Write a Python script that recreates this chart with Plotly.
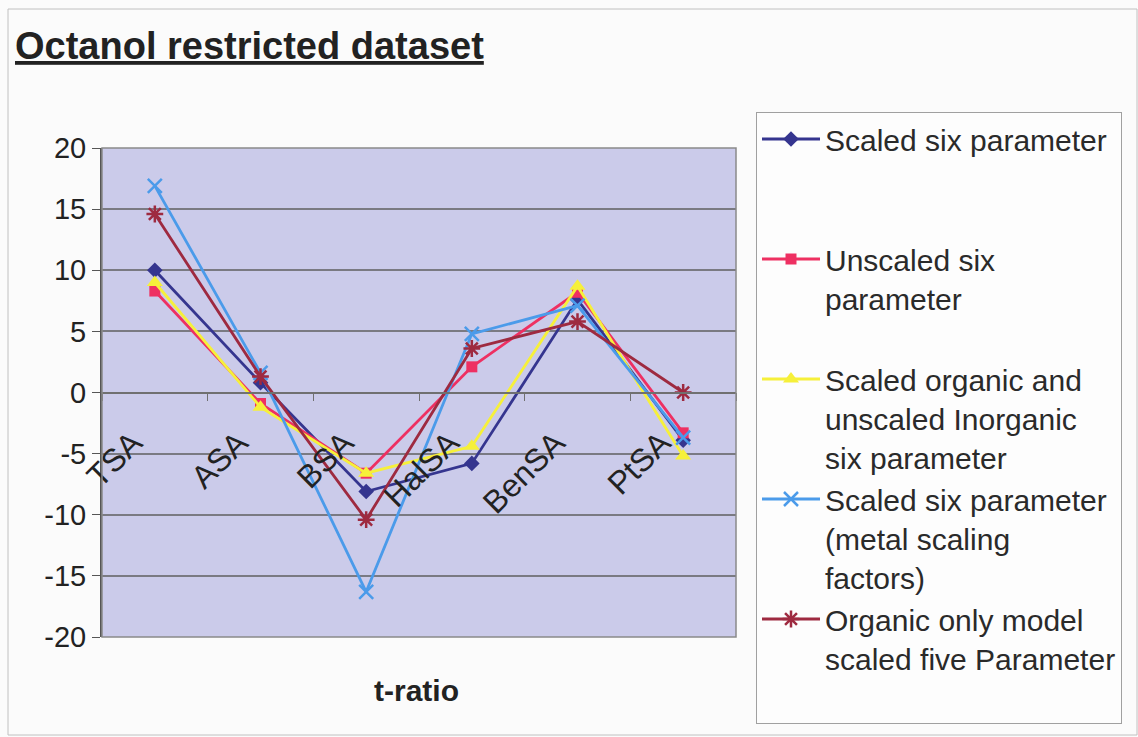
import plotly.graph_objects as go

# Categories and t-ratio values for each model
categories = ["TSA", "ASA", "BSA", "HalSA", "BenSA", "PtSA"]

scaled_six = [10.0, 0.8, -8.1, -5.8, 7.6, -3.9]
unscaled_six = [8.3, -0.9, -6.6, 2.1, 8.2, -3.3]
scaled_org_unscaled_inorg = [9.0, -1.2, -6.6, -4.4, 8.7, -5.2]
scaled_metal_factors = [16.9, 1.6, -16.3, 4.8, 7.1, -3.7]
organic_only_five = [14.6, 1.3, -10.4, 3.6, 5.8, 0.0]

y_ticks = [-20, -15, -10, -5, 0, 5, 10, 15, 20]
y_tick_text = [str(v) for v in y_ticks]

FONT = "Arial, Liberation Sans, sans-serif"
W, H = 1138, 737
# plot area in pixels
L, R, T, B = 102, 736, 148, 637


def px_x(px):
    return (px - L) / (R - L)


def px_y(py):
    return (B - py) / (B - T)


series = [
    ("Scaled six parameter<br>&nbsp;<br>&nbsp;", scaled_six, "#35358f", "diamond", 12, None),
    ("Unscaled six<br>parameter<br>&nbsp;", unscaled_six, "#ee3062", "square", 11, None),
    ("Scaled organic and<br>unscaled Inorganic<br>six parameter", scaled_org_unscaled_inorg, "#f6f03a", "triangle-up", 14, None),
    ("Scaled six parameter<br>(metal scaling<br>factors)", scaled_metal_factors, "#4b9bea", "x-thin-open", 14, 2.5),
    ("Organic only model<br>scaled five Parameter<br>&nbsp;", organic_only_five, "#9e2a40", "asterisk-open", 14, 2.5),
]

fig = go.Figure()
for name, vals, color, sym, size, lw in series:
    marker = dict(symbol=sym, size=size, color=color)
    if lw:
        marker["line"] = dict(color=color, width=lw)
    else:
        marker["line"] = dict(width=0)
    fig.add_trace(go.Scatter(
        x=categories, y=vals, name=name, mode="lines+markers",
        line=dict(color=color, width=2.8), marker=marker,
    ))

fig.update_layout(
    width=W, height=H,
    margin=dict(l=L, r=W - R, t=T, b=H - B, autoexpand=False),
    paper_bgcolor="#fbfbfb",
    plot_bgcolor="#cbcbea",
    font=dict(family=FONT, color="#222222"),
    showlegend=True,
    legend=dict(
        x=px_x(756), y=px_y(112), xanchor="left", yanchor="top",
        bgcolor="#fdfdfd", bordercolor="#a0a0a0", borderwidth=1,
        font=dict(family=FONT, size=30, color="#2a2a2a"),
        valign="top", itemwidth=58, tracegroupgap=0, maxheight=700,
    ),
    xaxis=dict(
        type="category", anchor="free", position=0.5,
        showgrid=False, showline=True, linecolor="#707070", linewidth=1.5,
        ticks="outside", tickson="boundaries", ticklen=8, tickcolor="#707070",
        tickangle=-45, tickfont=dict(size=32, color="#222222"),
        ticklabelstandoff=18, ticklabelshift=-22,
        range=[-0.5, 5.5],
    ),
    yaxis=dict(
        range=[-20, 20], tickvals=y_ticks, ticktext=y_tick_text,
        showgrid=True, gridcolor="#7a7a82", gridwidth=1.5,
        showline=True, linecolor="#555555", linewidth=2,
        ticks="outside", ticklen=8, tickcolor="#555555",
        tickfont=dict(size=29, color="#222222"), zeroline=False,
    ),
)

# plot area frame
fig.add_shape(type="rect", xref="paper", yref="paper", x0=0, x1=1, y0=0, y1=1,
              line=dict(color="#8a8a8a", width=1.5), layer="above")
# outer chart frame
fig.add_shape(type="rect", xref="paper", yref="paper",
              x0=px_x(8), x1=px_x(1137), y0=px_y(735), y1=px_y(9),
              line=dict(color="#c0c0c0", width=1))

fig.add_annotation(text="<b><u>Octanol restricted dataset</u></b>", xref="paper", yref="paper",
                   x=px_x(13), y=px_y(46), xanchor="left", yanchor="middle", showarrow=False,
                   font=dict(family=FONT, size=38, color="#222222"))
fig.add_annotation(text="<b>t-ratio</b>", xref="paper", yref="paper",
                   x=px_x(416), y=px_y(690), xanchor="center", yanchor="middle", showarrow=False,
                   font=dict(family=FONT, size=30, color="#222222"))

fig.write_html("out.html")
